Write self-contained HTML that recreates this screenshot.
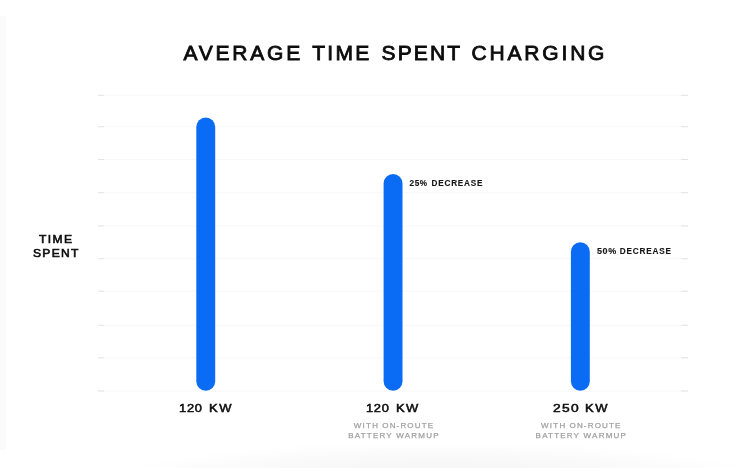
<!DOCTYPE html>
<html lang="en">
<head>
<meta charset="utf-8">
<title>Average Time Spent Charging</title>
<style>
html,body{margin:0;padding:0;}
body{width:750px;height:468px;overflow:hidden;background:#fff;position:relative;font-family:"Liberation Sans",Arial,Helvetica,sans-serif;}
#bg{position:absolute;left:0;top:0;width:750px;height:468px;background:radial-gradient(ellipse 310px 30px at 440px 472px,#f5f5f5 0,rgba(245,245,245,0.6) 50%,rgba(245,245,245,0) 100%);}
svg{position:absolute;left:0;top:0;}
h1,div{margin:0;padding:0;font-weight:400;}
h1 span,div span{position:absolute;white-space:nowrap;line-height:1;transform-origin:0 0;}
.title{font-size:21px;color:#0c0c0c;-webkit-text-stroke:0.85px #0c0c0c;}
.ylab{font-size:11.5px;color:#0c0c0c;-webkit-text-stroke:0.6px #0c0c0c;}
.ylab span{transform:scaleX(1.05);}
.note{font-size:8.2px;color:#161616;font-weight:700;-webkit-text-stroke:0.12px #161616;}
.xlab{font-size:11.5px;color:#0c0c0c;-webkit-text-stroke:0.5px #0c0c0c;}
.xlab span{transform:scaleX(1.05);}
.sub{font-size:8px;color:#a0a0a0;-webkit-text-stroke:0.25px #a0a0a0;}
</style>
</head>
<body>
<div id="bg"></div>
<svg width="750" height="468" viewBox="0 0 750 468">
<rect x="0" y="16" width="6" height="434" fill="#fbfbfb"/>
<g fill="#f8f8f8">
<rect x="98" y="94.8" width="590" height="1"/>
<rect x="98" y="126.2" width="590" height="1"/>
<rect x="98" y="159.0" width="590" height="1"/>
<rect x="98" y="192.2" width="590" height="1"/>
<rect x="98" y="225.4" width="590" height="1"/>
<rect x="98" y="258.2" width="590" height="1"/>
<rect x="98" y="290.7" width="590" height="1"/>
<rect x="98" y="324.8" width="590" height="1"/>
<rect x="98" y="357.3" width="590" height="1"/>
<rect x="98" y="390.5" width="590" height="1"/>
</g>
<g fill="#e4e4e4">
<rect x="98" y="94.8" width="6" height="1"/><rect x="681" y="94.8" width="7" height="1"/>
<rect x="98" y="126.2" width="6" height="1"/><rect x="681" y="126.2" width="7" height="1"/>
<rect x="98" y="159.0" width="6" height="1"/><rect x="681" y="159.0" width="7" height="1"/>
<rect x="98" y="192.2" width="6" height="1"/><rect x="681" y="192.2" width="7" height="1"/>
<rect x="98" y="225.4" width="6" height="1"/><rect x="681" y="225.4" width="7" height="1"/>
<rect x="98" y="258.2" width="6" height="1"/><rect x="681" y="258.2" width="7" height="1"/>
<rect x="98" y="290.7" width="6" height="1"/><rect x="681" y="290.7" width="7" height="1"/>
<rect x="98" y="324.8" width="6" height="1"/><rect x="681" y="324.8" width="7" height="1"/>
<rect x="98" y="357.3" width="6" height="1"/><rect x="681" y="357.3" width="7" height="1"/>
<rect x="98" y="390.5" width="6" height="1"/><rect x="681" y="390.5" width="7" height="1"/>
</g>
<g fill="#0a6cf5">
<rect x="196.3" y="117.4" width="18.9" height="273.4" rx="9.45" ry="9.45"/>
<rect x="383.6" y="174.1" width="18.9" height="216.7" rx="9.45" ry="9.45"/>
<rect x="570.9" y="242.3" width="18.9" height="148.5" rx="9.45" ry="9.45"/>
</g>
</svg>
<h1 class="title"><span style="left:183.5px;top:42px;letter-spacing:2.78px">AVERAGE</span> <span style="left:312.2px;top:42px;letter-spacing:2.28px">TIME</span> <span style="left:381.5px;top:42px;letter-spacing:2.12px">SPENT</span> <span style="left:471.55px;top:42px;letter-spacing:2.82px">CHARGING</span></h1>
<div class="ylab"><span style="left:39.4px;top:234px;letter-spacing:1.3px">TIME</span> <span style="left:33.05px;top:248px;letter-spacing:1.2px">SPENT</span></div>
<div class="note"><span style="left:409.45px;top:180px;letter-spacing:0.65px">25%</span> <span style="left:431.5px;top:180px;letter-spacing:0.79px">DECREASE</span></div>
<div class="note"><span style="left:596.75px;top:248px;letter-spacing:0.53px;transform:scaleX(1.1)">50%</span> <span style="left:619.8px;top:248px;letter-spacing:0.81px">DECREASE</span></div>
<div class="xlab"><span style="left:179.05px;top:403px;letter-spacing:0.67px;transform:scaleX(1.12)">120</span> <span style="left:208.95px;top:403px;letter-spacing:1.42px;transform:scaleX(1.13)">KW</span></div>
<div class="xlab"><span style="left:366.45px;top:403px;letter-spacing:0.62px;transform:scaleX(1.12)">120</span> <span style="left:396.45px;top:403px;letter-spacing:1.24px;transform:scaleX(1.13)">KW</span></div>
<div class="sub"><span style="left:353.8px;top:422px;letter-spacing:1.23px">WITH</span> <span style="left:382.25px;top:422px;letter-spacing:1.16px">ON-ROUTE</span> <span style="left:348.3px;top:432px;letter-spacing:1.2px">BATTERY</span> <span style="left:396.3px;top:432px;letter-spacing:1.23px">WARMUP</span></div>
<div class="xlab"><span style="left:552.5px;top:403px;letter-spacing:1.12px;transform:scaleX(1.2)">250</span> <span style="left:584.75px;top:403px;letter-spacing:1.51px;transform:scaleX(1.13)">KW</span></div>
<div class="sub"><span style="left:541.1px;top:422px;letter-spacing:1.23px">WITH</span> <span style="left:569.55px;top:422px;letter-spacing:1.16px">ON-ROUTE</span> <span style="left:535.6px;top:432px;letter-spacing:1.2px">BATTERY</span> <span style="left:583.6px;top:432px;letter-spacing:1.23px">WARMUP</span></div>
</body>
</html>
